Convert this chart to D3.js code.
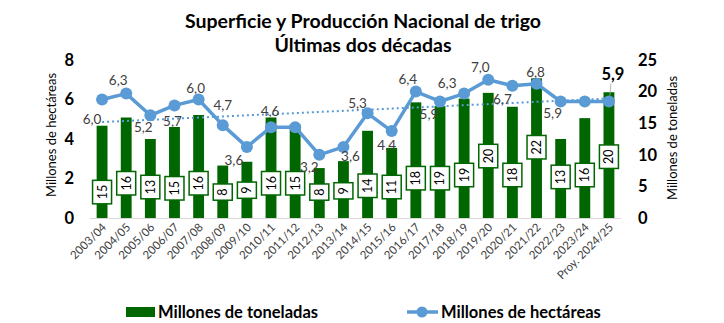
<!DOCTYPE html>
<html><head><meta charset="utf-8">
<script src="https://cdn.jsdelivr.net/npm/d3@7"></script>
<style>body{margin:0;background:#fff;} svg{display:block;font-family:Lato,"Open Sans",sans-serif;}</style>
</head><body><svg id="c" width="724" height="323"></svg>
<script>
const categories = ["2003/04","2004/05","2005/06","2006/07","2007/08","2008/09","2009/10","2010/11","2011/12","2012/13","2013/14","2014/15","2015/16","2016/17","2017/18","2018/19","2019/20","2020/21","2021/22","2022/23","2023/24","Proy. 2024/25"];
const toneladas = [14.6,15.9,12.5,14.4,16.3,8.3,8.9,15.9,14.8,7.9,9.0,13.8,11.1,18.3,17.7,18.9,19.8,17.6,22.1,12.5,15.8,19.9];
const toneladasLabels = ["15","16","13","15","16","8","9","16","15","8","9","14","11","18","19","19","20","18","22","13","16","20"];
const hectareas = [6.0,6.3,5.2,5.7,6.0,4.7,3.6,4.6,4.6,3.2,3.6,5.3,4.4,6.4,5.9,6.3,7.0,6.7,6.8,5.9,5.9,5.9];
const hectareasLabels = ["6,0","6,3","5,2","5,7","6,0","4,7","3,6","4,6","","3,2","3,6","5,3","4,4","6,4","5,9","6,3","7,0","6,7","6,8","5,9","","5,9"];
const leftTicks = [0,2,4,6,8];
const rightTicks = [0,5,10,15,20,25];

// layout helpers (not data)
const barLabelAnchor = [4.1,5.5,4.9,4.7,5.5,4.1,4.4,5.5,5.5,4.1,4.3,5.1,4.9,6.3,6.3,6.8,9.8,6.8,11.2,6.5,6.8,9.7];
const lineLabelDx = [-10,-8,-7,-2,-3,0,-13,-1,0,-10,7,-10,-5,-8,-11,-17,-8,-10,-1,-8,0,4];
const lineLabelDy = [19,-14,12,16,-12,-20,13,-16,0,12,9,-10,14,-13,13,-11,-13,13,-12,12,0,-27];

const GREEN = "#006600", BLUE = "#5B9BD5";
const svg = d3.select("#c");

const x = d3.scaleBand().domain(categories).range([90, 621]).paddingInner(0.55).paddingOuter(0.275);
const yL = d3.scaleLinear().domain([0, 8]).range([218, 60]);
const yR = d3.scaleLinear().domain([0, 25]).range([218, 60]);
const cx = c => x(c) + x.bandwidth() / 2;

// Title
const title = svg.append("text").attr("x", 363).attr("text-anchor", "middle")
  .attr("font-weight", "bold").attr("font-size", 19.5).attr("fill", "#000");
title.append("tspan").attr("x", 363).attr("y", 28).text("Superficie y Producción Nacional de trigo");
title.append("tspan").attr("x", 363).attr("y", 52).text("Últimas dos décadas");

// baseline
svg.append("line").attr("x1", 90).attr("x2", 621).attr("y1", 218.5).attr("y2", 218.5)
  .attr("stroke", "#d9d9d9").attr("stroke-width", 1);

// Axes
const axL = svg.append("g").attr("transform", "translate(90,0)")
  .call(d3.axisLeft(yL).tickValues(leftTicks).tickSize(0).tickPadding(16).tickFormat(d3.format("d")));
const axR = svg.append("g").attr("transform", "translate(621,0)")
  .call(d3.axisRight(yR).tickValues(rightTicks).tickSize(0).tickPadding(17).tickFormat(d3.format("d")));
[axL, axR].forEach(a => {
  a.select(".domain").remove();
  a.selectAll("text").attr("font-size", 16.5).attr("font-weight", "bold").attr("fill", "#000")
    .attr("font-family", "Lato, 'Open Sans', sans-serif");
});

const axX = svg.append("g").attr("transform", "translate(0,218)")
  .call(d3.axisBottom(x).tickSize(0).tickPadding(0));
axX.select(".domain").remove();
axX.selectAll("text").attr("font-size", 11.5).attr("fill", "#404040")
  .attr("font-family", "Lato, 'Open Sans', sans-serif")
  .attr("text-anchor", "end").attr("dy", null).attr("y", 0)
  .attr("transform", "translate(5,10) rotate(-45)");

// Axis titles
svg.append("text").attr("transform", "translate(56,135) rotate(-90)").attr("text-anchor", "middle")
  .attr("font-size", 13).attr("fill", "#000").text("Millones de hectáreas");
svg.append("text").attr("transform", "translate(677,138) rotate(-90)").attr("text-anchor", "middle")
  .attr("font-size", 13).attr("fill", "#000").text("Millones de toneladas");

// Bars
svg.append("g").selectAll("rect").data(categories).join("rect")
  .attr("x", c => x(c)).attr("width", x.bandwidth())
  .attr("y", (c, i) => yR(toneladas[i])).attr("height", (c, i) => yR(0) - yR(toneladas[i]))
  .attr("fill", GREEN);

// Bar labels in boxes
const bl = svg.append("g").selectAll("g").data(categories).join("g")
  .attr("transform", (c, i) => `translate(${cx(c)},${yR(barLabelAnchor[i])}) rotate(-90)`);
bl.each(function(c, i) {
  const g = d3.select(this);
  const t = g.append("text").attr("text-anchor", "middle").attr("dominant-baseline", "central")
    .attr("font-size", 12.5).attr("fill", "#000").text(toneladasLabels[i]);
  const w = t.node().getComputedTextLength() + 9;
  g.insert("rect", "text").attr("x", -w / 2).attr("y", -9.5).attr("width", w).attr("height", 19)
    .attr("fill", "#fff").attr("stroke", GREEN).attr("stroke-width", 1.5);
});

// Trend line (linear regression on hectareas)
const n = hectareas.length;
const mi = (n - 1) / 2, mv = d3.mean(hectareas);
let sxy = 0, sxx = 0;
hectareas.forEach((v, i) => { sxy += (i - mi) * (v - mv); sxx += (i - mi) * (i - mi); });
const slope = sxy / sxx, icpt = mv - slope * mi;
svg.append("line")
  .attr("x1", cx(categories[0])).attr("y1", yL(icpt))
  .attr("x2", cx(categories[n - 1])).attr("y2", yL(icpt + slope * (n - 1)))
  .attr("stroke", BLUE).attr("stroke-width", 2).attr("stroke-dasharray", "2,3");

// Line
const line = d3.line().x((d, i) => cx(categories[i])).y(d => yL(d));
svg.append("path").datum(hectareas).attr("d", line).attr("fill", "none")
  .attr("stroke", BLUE).attr("stroke-width", 3.5).attr("stroke-linejoin", "round");
svg.append("g").selectAll("circle").data(hectareas).join("circle")
  .attr("cx", (d, i) => cx(categories[i])).attr("cy", d => yL(d)).attr("r", 6).attr("fill", BLUE);

// Line labels
const last = n - 1;
svg.append("line").attr("x1", cx(categories[last]) + 1).attr("x2", cx(categories[last]) + 2)
  .attr("y1", yL(hectareas[last]) - 6).attr("y2", yL(hectareas[last]) + lineLabelDy[last] + 9)
  .attr("stroke", "#a6a6a6").attr("stroke-width", 0.8);
svg.append("g").selectAll("text").data(hectareasLabels).join("text")
  .attr("x", (d, i) => cx(categories[i]) + lineLabelDx[i])
  .attr("y", (d, i) => yL(hectareas[i]) + lineLabelDy[i])
  .attr("text-anchor", "middle").attr("dominant-baseline", "central")
  .attr("font-size", (d, i) => i === last ? 16.5 : 13.5)
  .attr("font-weight", (d, i) => i === last ? "bold" : "normal")
  .attr("fill", (d, i) => i === last ? "#000" : "#404040")
  .text(d => d);

// Legend
const lg = svg.append("g");
lg.append("rect").attr("x", 126).attr("y", 307).attr("width", 29).attr("height", 10).attr("fill", GREEN);
lg.append("text").attr("x", 158).attr("y", 318).attr("font-size", 16.5).attr("font-weight", "bold")
  .attr("fill", "#000").text("Millones de toneladas");
lg.append("line").attr("x1", 407).attr("x2", 438).attr("y1", 312).attr("y2", 312)
  .attr("stroke", BLUE).attr("stroke-width", 3.5);
lg.append("circle").attr("cx", 422).attr("cy", 312).attr("r", 5.5).attr("fill", BLUE);
lg.append("text").attr("x", 441).attr("y", 318).attr("font-size", 16.5).attr("font-weight", "bold")
  .attr("fill", "#000").text("Millones de hectáreas");
</script></body></html>
